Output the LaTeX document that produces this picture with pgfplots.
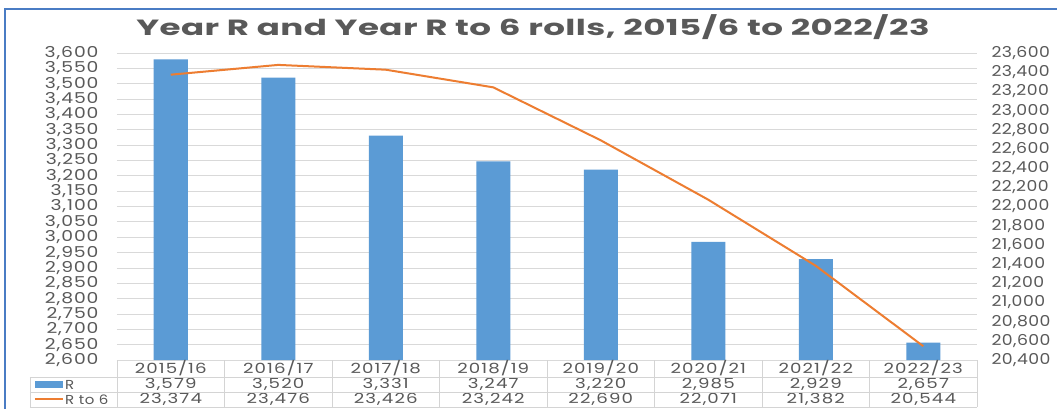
\documentclass[border=0pt]{standalone}
\usepackage{pgfplots}
\pgfplotsset{compat=1.18}
\usepackage{fontspec}
\setmainfont{Poppins}[FakeStretch=1.25, LetterSpace=6]
\newfontfamily\rfont{Poppins}[FakeStretch=1.15, LetterSpace=3]
\newfontfamily\tblfont{Poppins}[FakeStretch=1.3, LetterSpace=8]
\newfontfamily\legfont{Poppins}[FakeStretch=1.15, LetterSpace=4]
\newfontfamily\titlefont{Poppins}[FakeStretch=1.55, LetterSpace=2]
\definecolor{barblue}{HTML}{5B9BD5}
\definecolor{lineorange}{HTML}{ED7D31}
\definecolor{txtgrey}{HTML}{595959}
\definecolor{gridgrey}{HTML}{D9D9D9}
\definecolor{tblgrey}{HTML}{D4D4D4}
\definecolor{frameblue}{HTML}{4A7CC4}
\pgfplotstableread{
x R
0 3579
1 3520
2 3331
3 3247
4 3220
5 2985
6 2929
7 2657
}\rdata
\pgfplotstableread{
x S
0 23374
1 23476
2 23426
3 23242
4 22690
5 22071
6 21382
7 20544
}\sdata
\begin{document}
\begin{tikzpicture}
\useasboundingbox (-117pt,-48pt) rectangle (940pt,360pt);
\fill[white] (-117pt,-48pt) rectangle (940pt,360pt);
\draw[frameblue, line width=2pt] (-112pt,-49pt) -- (-112pt,351pt) -- (941pt,351pt);
\node[text=txtgrey, font=\titlefont\fontsize{22}{26}\selectfont\bfseries] at (416pt,333pt) {Year R and Year R to 6 rolls, 2015/6 to 2022/23};
\begin{axis}[
  at={(0pt,0pt)}, anchor=south west,
  scale only axis, width=860pt, height=307pt,
  xmin=-0.5, xmax=7.5, ymin=2600, ymax=3600,
  ytick distance=50, xtick=\empty,
  ymajorgrids, grid style={gridgrey, line width=0.8pt},
  axis line style={draw=none}, major tick length=0pt,
  /pgf/number format/assume math mode=true,
  /pgf/number format/fixed, /pgf/number format/precision=0,
  /pgf/number format/1000 sep={,},
  yticklabel style={font=\fontsize{15}{15}\selectfont, text=txtgrey, xshift=-15pt},
  clip=false,
]
\addplot[ybar, bar width=34pt, fill=barblue, draw=none, bar shift=0pt] table[x=x,y=R]{\rdata};
\end{axis}
\begin{axis}[
  at={(0pt,0pt)}, anchor=south west,
  scale only axis, width=860pt, height=307pt,
  xmin=-0.5, xmax=7.5, ymin=20400, ymax=23600,
  ytick distance=200, xtick=\empty,
  scaled y ticks=false,
  axis y line*=right, axis x line=none,
  axis line style={draw=none}, major tick length=0pt,
  /pgf/number format/assume math mode=true,
  /pgf/number format/fixed, /pgf/number format/precision=0,
  /pgf/number format/1000 sep={,},
  yticklabel style={font=\rfont\fontsize{15}{15}\selectfont, text=txtgrey, xshift=11pt},
  clip=false,
]
\addplot[lineorange, line width=2pt, no marks] table[x=x,y=S]{\sdata};
% data table
\begin{scope}[every node/.style={font=\tblfont\fontsize{14}{14}\selectfont, text=txtgrey}]
\node at (axis cs:0,20400) [yshift=-8.5pt] {2015/16};
\node at (axis cs:1,20400) [yshift=-8.5pt] {2016/17};
\node at (axis cs:2,20400) [yshift=-8.5pt] {2017/18};
\node at (axis cs:3,20400) [yshift=-8.5pt] {2018/19};
\node at (axis cs:4,20400) [yshift=-8.5pt] {2019/20};
\node at (axis cs:5,20400) [yshift=-8.5pt] {2020/21};
\node at (axis cs:6,20400) [yshift=-8.5pt] {2021/22};
\node at (axis cs:7,20400) [yshift=-8.5pt] {2022/23};
\node at (axis cs:0,20400) [yshift=-24.5pt] {3,579};
\node at (axis cs:1,20400) [yshift=-24.5pt] {3,520};
\node at (axis cs:2,20400) [yshift=-24.5pt] {3,331};
\node at (axis cs:3,20400) [yshift=-24.5pt] {3,247};
\node at (axis cs:4,20400) [yshift=-24.5pt] {3,220};
\node at (axis cs:5,20400) [yshift=-24.5pt] {2,985};
\node at (axis cs:6,20400) [yshift=-24.5pt] {2,929};
\node at (axis cs:7,20400) [yshift=-24.5pt] {2,657};
\node at (axis cs:0,20400) [yshift=-39.5pt] {23,374};
\node at (axis cs:1,20400) [yshift=-39.5pt] {23,476};
\node at (axis cs:2,20400) [yshift=-39.5pt] {23,426};
\node at (axis cs:3,20400) [yshift=-39.5pt] {23,242};
\node at (axis cs:4,20400) [yshift=-39.5pt] {22,690};
\node at (axis cs:5,20400) [yshift=-39.5pt] {22,071};
\node at (axis cs:6,20400) [yshift=-39.5pt] {21,382};
\node at (axis cs:7,20400) [yshift=-39.5pt] {20,544};
\end{scope}
\end{axis}
% table grid
\draw[tblgrey, line width=0.8pt] (-87pt,-17pt) -- (860pt,-17pt)
  (-87pt,-32pt) -- (860pt,-32pt) (-87pt,-47pt) -- (860pt,-47pt)
  (-87pt,-17pt) -- (-87pt,-47pt);
\foreach \k in {0,...,8} \draw[tblgrey, line width=0.8pt] (\k*107.5pt,0pt) -- (\k*107.5pt,-47pt);
\fill[barblue] (-82pt,-21pt) rectangle (-54pt,-28pt);
\draw[lineorange, line width=2pt] (-82pt,-39pt) -- (-54pt,-39pt);
\node[anchor=west, inner sep=0pt, text=txtgrey, font=\legfont\fontsize{13}{13}\selectfont] at (-52pt,-24.5pt) {R};
\node[anchor=west, inner sep=0pt, text=txtgrey, font=\legfont\fontsize{13}{13}\selectfont] at (-52pt,-39.5pt) {R to 6};
\end{tikzpicture}
\end{document}
